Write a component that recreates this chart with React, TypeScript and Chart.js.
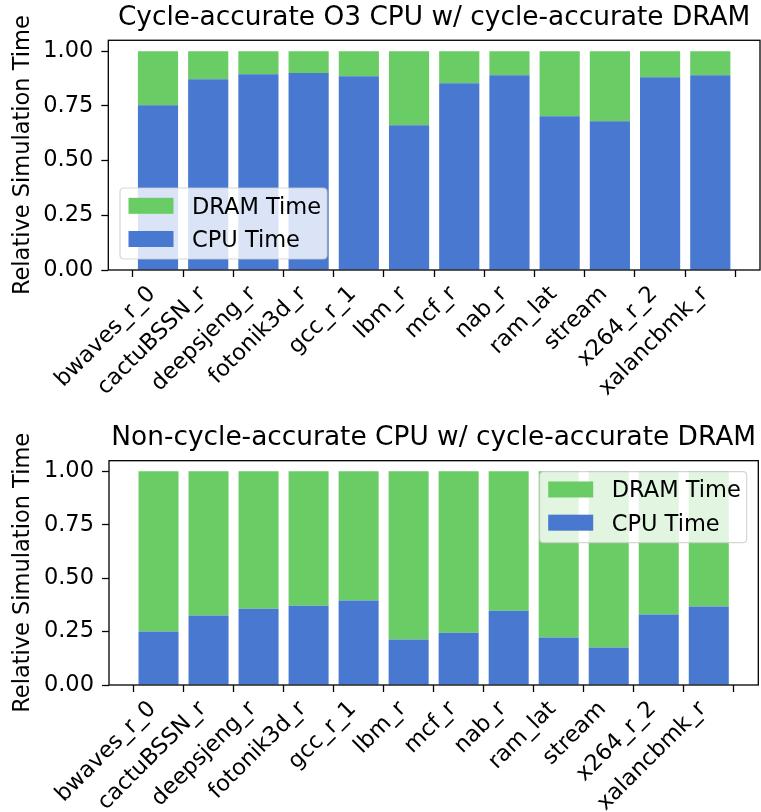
import React, { useEffect, useRef } from "react";
import { Chart, registerables } from "chart.js";

Chart.register(...registerables);

// Benchmarks on the x axis
const categories = [
  "bwaves_r_0",
  "cactuBSSN_r",
  "deepsjeng_r",
  "fotonik3d_r",
  "gcc_r_1",
  "lbm_r",
  "mcf_r",
  "nab_r",
  "ram_lat",
  "stream",
  "x264_r_2",
  "xalancbmk_r",
];

// Cycle-accurate O3 CPU + cycle-accurate DRAM (fractions of total time)
const o3CpuTime = [0.753, 0.872, 0.895, 0.9, 0.886, 0.662, 0.854, 0.89, 0.703, 0.68, 0.881, 0.89];
const o3DramTime = [0.247, 0.128, 0.105, 0.1, 0.114, 0.338, 0.146, 0.11, 0.297, 0.32, 0.119, 0.11];

// Non-cycle-accurate CPU + cycle-accurate DRAM
const atomicCpuTime = [0.25, 0.325, 0.357, 0.371, 0.395, 0.213, 0.245, 0.348, 0.222, 0.175, 0.33, 0.367];
const atomicDramTime = [0.75, 0.675, 0.643, 0.629, 0.605, 0.787, 0.755, 0.652, 0.778, 0.825, 0.67, 0.633];

const yTicks = [0, 0.25, 0.5, 0.75, 1.0];

const FONT = "'DejaVu Sans', sans-serif";
const BASE_SIZE = 22.5;
const TITLE_SIZE = 26.4;
const BLUE = "#4878CF";
const GREEN = "#6ACC65";

type PanelProps = {
  title: string;
  cpu: number[];
  dram: number[];
  height: number;
  titlePad: { top: number; bottom: number };
  yWidth: number;
  xHeight: number;
  padRight: number;
  legendCorner: "lower-left" | "upper-right";
};

// Full box around the plotting area (all four spines)
const framePlugin = {
  id: "frame",
  afterDatasetsDraw(chart: any) {
    const { ctx, chartArea: a } = chart;
    ctx.save();
    ctx.strokeStyle = "#000";
    ctx.lineWidth = 1.3;
    ctx.strokeRect(a.left, a.top, a.right - a.left, a.bottom - a.top);
    ctx.restore();
  },
};

function makeLegendPlugin(corner: "lower-left" | "upper-right") {
  return {
    id: "insetLegend",
    afterDraw(chart: any) {
      const { ctx, chartArea: a } = chart;
      const w = 207;
      const h = 71;
      const x = corner === "lower-left" ? a.left + 11.7 : a.right - 11.6 - w;
      const y = corner === "lower-left" ? a.bottom - 11 - h : a.top + 11;
      ctx.save();
      ctx.beginPath();
      const r = 4;
      ctx.moveTo(x + r, y);
      ctx.lineTo(x + w - r, y);
      ctx.quadraticCurveTo(x + w, y, x + w, y + r);
      ctx.lineTo(x + w, y + h - r);
      ctx.quadraticCurveTo(x + w, y + h, x + w - r, y + h);
      ctx.lineTo(x + r, y + h);
      ctx.quadraticCurveTo(x, y + h, x, y + h - r);
      ctx.lineTo(x, y + r);
      ctx.quadraticCurveTo(x, y, x + r, y);
      ctx.closePath();
      ctx.fillStyle = "rgba(255,255,255,0.8)";
      ctx.fill();
      ctx.strokeStyle = "rgba(204,204,204,0.8)";
      ctx.lineWidth = 1.2;
      ctx.stroke();

      // DRAM listed first, then CPU
      const entries = [...chart.data.datasets].reverse();
      ctx.font = `${BASE_SIZE}px ${FONT}`;
      ctx.textBaseline = "alphabetic";
      ctx.textAlign = "left";
      entries.forEach((ds: any, i: number) => {
        const cy = y + 17.8 + i * 33.2;
        ctx.fillStyle = ds.backgroundColor;
        ctx.fillRect(x + 8.5, cy - 8, 45, 16);
        ctx.fillStyle = "#000";
        ctx.fillText(ds.label, x + 72, cy + 8);
      });
      ctx.restore();
    },
  };
}

function StackedPanel(props: PanelProps) {
  const ref = useRef<HTMLCanvasElement | null>(null);

  useEffect(() => {
    if (!ref.current) return;
    const tickFont = { family: FONT, size: BASE_SIZE, weight: "normal" as const };
    const chart = new Chart(ref.current, {
      type: "bar",
      data: {
        datasets: [
          {
            label: "CPU Time",
            data: props.cpu.map((v, i) => ({ x: i, y: v })),
            backgroundColor: BLUE,
            borderWidth: 0,
            barPercentage: 0.8,
            categoryPercentage: 1,
          },
          {
            label: "DRAM Time",
            data: props.dram.map((v, i) => ({ x: i, y: v })),
            backgroundColor: GREEN,
            borderWidth: 0,
            barPercentage: 0.8,
            categoryPercentage: 1,
          },
        ],
      },
      options: {
        responsive: false,
        animation: false,
        devicePixelRatio: 1,
        layout: { padding: { left: 0, right: props.padRight, top: 0, bottom: 0 } },
        plugins: {
          legend: { display: false },
          tooltip: { enabled: false },
          title: {
            display: true,
            text: props.title,
            fullSize: false,
            color: "#000",
            font: { family: FONT, size: TITLE_SIZE, weight: "normal", lineHeight: 1.2 },
            padding: props.titlePad,
          },
        },
        scales: {
          x: {
            type: "linear",
            stacked: true,
            offset: false,
            min: -0.99,
            max: 11.99,
            grid: {
              display: true,
              drawOnChartArea: false,
              drawTicks: true,
              tickLength: 7,
              tickColor: "#000",
              tickWidth: 1.3,
            },
            border: { display: false },
            afterBuildTicks: (scale: any) => {
              scale.ticks = categories.map((_, i) => ({ value: i }));
            },
            ticks: {
              autoSkip: false,
              minRotation: 45,
              maxRotation: 45,
              labelOffset: -6,
              padding: 4,
              color: "#000",
              font: tickFont,
              callback: (v: any) => categories[Math.round(Number(v))] ?? "",
            },
            afterFit: (scale: any) => {
              scale.height = props.xHeight;
            },
          },
          y: {
            stacked: true,
            min: 0,
            max: 1.05,
            grid: {
              display: true,
              drawOnChartArea: false,
              drawTicks: true,
              tickLength: 7,
              tickColor: "#000",
              tickWidth: 1.3,
            },
            border: { display: false },
            afterBuildTicks: (scale: any) => {
              scale.ticks = yTicks.map((v) => ({ value: v }));
            },
            ticks: {
              padding: 8,
              color: "#000",
              font: tickFont,
              callback: (v: any) => Number(v).toFixed(2),
            },
            title: {
              display: true,
              text: "Relative Simulation Time",
              color: "#000",
              font: { family: FONT, size: BASE_SIZE, weight: "normal", lineHeight: 1.2 },
              padding: { top: 10, bottom: 0 },
            },
            afterFit: (scale: any) => {
              scale.width = props.yWidth;
            },
          },
        },
      } as any,
      plugins: [framePlugin, makeLegendPlugin(props.legendCorner)],
    });
    return () => chart.destroy();
  }, []);

  return (
    <canvas
      ref={ref}
      width={761}
      height={props.height}
      style={{ display: "block", width: 761, height: props.height }}
    />
  );
}

export default function App() {
  return (
    <div
      style={{
        position: "absolute",
        left: 0,
        top: 0,
        width: 761,
        height: 812,
        background: "#fff",
      }}
    >
      <StackedPanel
        title="Cycle-accurate O3 CPU w/ cycle-accurate DRAM"
        cpu={o3CpuTime}
        dram={o3DramTime}
        height={406}
        titlePad={{ top: 2.8, bottom: 5.8 }}
        yWidth={108.3}
        xHeight={136}
        padRight={1}
        legendCorner="lower-left"
      />
      <StackedPanel
        title="Non-cycle-accurate CPU w/ cycle-accurate DRAM"
        cpu={atomicCpuTime}
        dram={atomicDramTime}
        height={406}
        titlePad={{ top: 16.4, bottom: 6.6 }}
        yWidth={109}
        xHeight={127}
        padRight={2.7}
        legendCorner="upper-right"
      />
    </div>
  );
}
